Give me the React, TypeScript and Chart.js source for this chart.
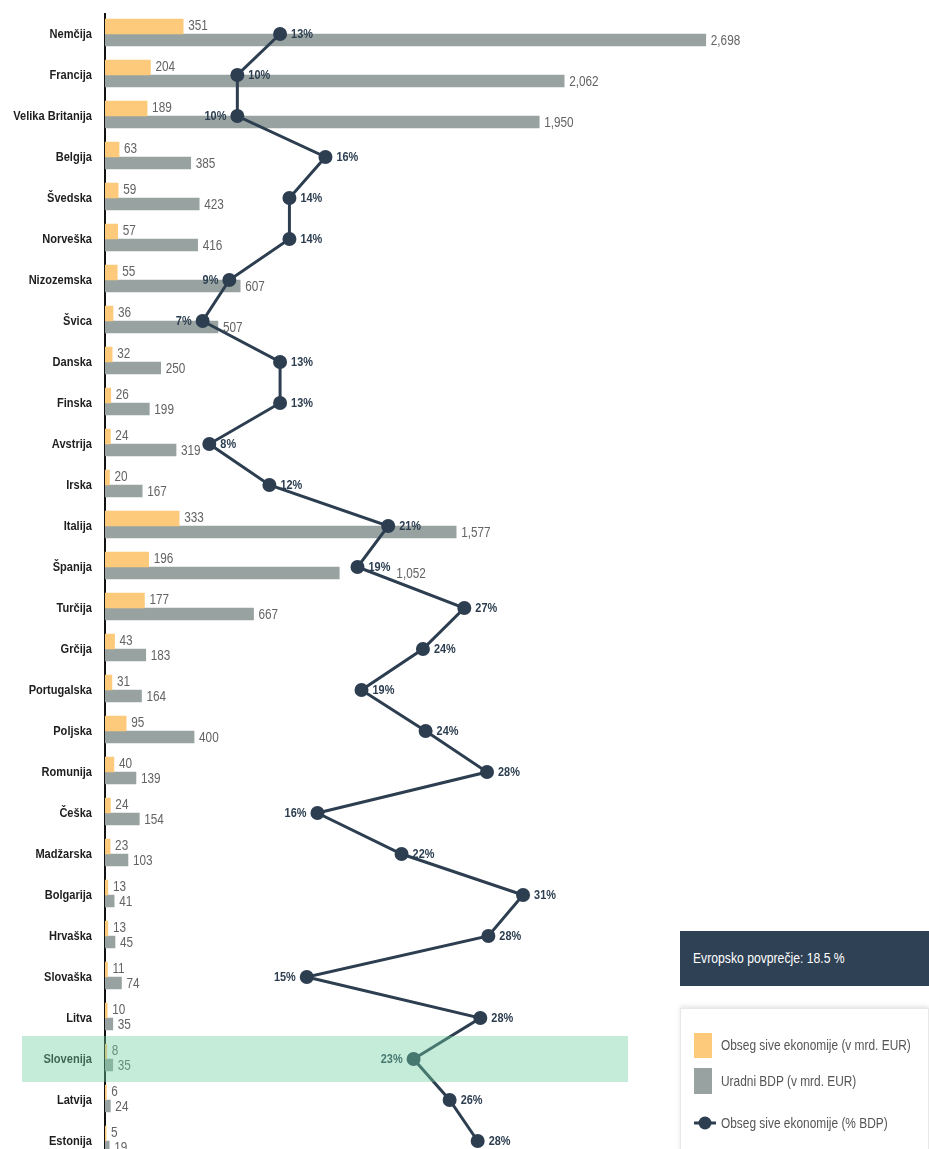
import React, { useEffect, useRef } from 'react';
import { Chart, registerables } from 'chart.js';

Chart.register(...registerables);

const COUNTRIES = [
  'Nemčija', 'Francija', 'Velika Britanija', 'Belgija', 'Švedska', 'Norveška', 'Nizozemska',
  'Švica', 'Danska', 'Finska', 'Avstrija', 'Irska', 'Italija', 'Španija', 'Turčija', 'Grčija',
  'Portugalska', 'Poljska', 'Romunija', 'Češka', 'Madžarska', 'Bolgarija', 'Hrvaška', 'Slovaška',
  'Litva', 'Slovenija', 'Latvija', 'Estonija',
];
const SHADOW_EUR = [351, 204, 189, 63, 59, 57, 55, 36, 32, 26, 24, 20, 333, 196, 177, 43, 31, 95, 40, 24, 23, 13, 13, 11, 10, 8, 6, 5];
const GDP_EUR = [2698, 2062, 1950, 385, 423, 416, 607, 507, 250, 199, 319, 167, 1577, 1052, 667, 183, 164, 400, 139, 154, 103, 41, 45, 74, 35, 35, 24, 19];
const SHADOW_PCT = [12.8, 9.6, 9.6, 16.2, 13.5, 13.5, 9.0, 7.0, 12.8, 12.8, 7.5, 12.0, 20.9, 18.6, 26.6, 23.5, 18.9, 23.7, 28.3, 15.6, 21.9, 31.0, 28.4, 14.8, 27.8, 22.8, 25.5, 27.6];
const HIGHLIGHT = 'Slovenija';
const LEFT_LABELS = new Set(['Velika Britanija', 'Nizozemska', 'Švica', 'Češka', 'Slovaška', 'Slovenija']);
const LEGEND_LABELS = ['Obseg sive ekonomije (v mrd. EUR)', 'Uradni BDP (v mrd. EUR)', 'Obseg sive ekonomije (% BDP)'];
const AVERAGE_TEXT = 'Evropsko povprečje: 18.5 %';

const FONT = "'Liberation Sans', Arial, sans-serif";
const ORANGE = '#fdc97a';
const GRAY = '#98a3a1';
const NAVY = '#2c3e50';

const fmt = (v: number) => v.toLocaleString('en-US');

function narrowText(ctx: CanvasRenderingContext2D, text: string, x: number, y: number, font: string, color: string, align: CanvasTextAlign, sx: number) {
  ctx.save();
  ctx.font = font;
  ctx.fillStyle = color;
  ctx.textAlign = align;
  ctx.textBaseline = 'middle';
  ctx.translate(x, y);
  ctx.scale(sx, 1);
  ctx.fillText(text, 0, 0);
  ctx.restore();
}
function narrowWidth(ctx: CanvasRenderingContext2D, text: string, font: string, sx: number) {
  ctx.save();
  ctx.font = font;
  const w = ctx.measureText(text).width * sx;
  ctx.restore();
  return w;
}

const labelPlugin = {
  id: 'valueLabels',
  afterDatasetsDraw(chart: any) {
    const { ctx } = chart;
    const x = chart.scales.x;
    const x2 = chart.scales.x2;
    const y = chart.scales.y;
    const catFont = `bold 13.5px ${FONT}`;
    const pctFont = `bold 13px ${FONT}`;
    const valFont = `14px ${FONT}`;
    COUNTRIES.forEach((c, i) => {
      const cy = y.getPixelForValue(i);
      // category label
      narrowText(ctx, c, y.right - 13, cy, catFont, '#1e1e1e', 'right', 0.82);
      // percent label
      const px = x2.getPixelForValue(SHADOW_PCT[i]);
      const pctText = Math.round(SHADOW_PCT[i]) + '%';
      const left = LEFT_LABELS.has(c);
      const pw = narrowWidth(ctx, pctText, pctFont, 0.84);
      const pStart = left ? px - 11 - pw : px + 11;
      narrowText(ctx, pctText, pStart, cy, pctFont, NAVY, 'left', 0.84);
      // value labels
      narrowText(ctx, String(SHADOW_EUR[i]), x.getPixelForValue(SHADOW_EUR[i]) + 5, cy - 8, valFont, '#636363', 'left', 0.84);
      const gText = fmt(GDP_EUR[i]);
      let gx = x.getPixelForValue(GDP_EUR[i]) + 5;
      const gw = narrowWidth(ctx, gText, valFont, 0.84);
      if (!left && gx < px + 7 && gx + gw > px - 7) {
        gx = pStart + pw + 6;
      }
      narrowText(ctx, gText, gx, cy + 7, valFont, '#636363', 'left', 0.84);
    });
  },
  afterDraw(chart: any) {
    const { ctx } = chart;
    const y = chart.scales.y;
    const i = COUNTRIES.indexOf(HIGHLIGHT);
    const cy = y.getPixelForValue(i);
    ctx.save();
    ctx.fillStyle = 'rgba(110, 208, 160, 0.4)';
    ctx.fillRect(22, cy - 23, 606, 46);
    ctx.restore();
  },
};

function ChartCanvas() {
  const ref = useRef<HTMLCanvasElement | null>(null);
  useEffect(() => {
    if (!ref.current) return;
    const chart = new Chart(ref.current, {
      type: 'bar',
      data: {
        labels: COUNTRIES,
        datasets: [
          {
            type: 'line' as const,
            label: LEGEND_LABELS[2],
            data: SHADOW_PCT,
            xAxisID: 'x2',
            borderColor: NAVY,
            backgroundColor: NAVY,
            borderWidth: 3,
            pointRadius: 7,
            pointBorderWidth: 0,
            pointBackgroundColor: NAVY,
            order: 0,
          } as any,
          {
            label: LEGEND_LABELS[0],
            data: SHADOW_EUR,
            xAxisID: 'x',
            backgroundColor: ORANGE,
            barThickness: 15,
            order: 1,
          },
          {
            label: LEGEND_LABELS[1],
            data: GDP_EUR,
            xAxisID: 'x',
            backgroundColor: GRAY,
            barThickness: 12,
            order: 2,
          },
        ],
      },
      options: {
        indexAxis: 'y',
        animation: false,
        responsive: true,
        maintainAspectRatio: false,
        layout: { padding: { top: 13.5, bottom: 13.5, right: 4, left: 0 } },
        plugins: { legend: { display: false }, tooltip: { enabled: false } },
        scales: {
          x: { type: 'linear', display: false, min: 0, max: 3669 },
          x2: { type: 'linear', display: false, min: -0.313, max: 60.88 },
          y: {
            type: 'category',
            offset: true,
            grid: { display: false },
            border: { display: true, color: '#111', width: 2 },
            ticks: { display: false },
            afterFit: (s: any) => {
              s.width = 105;
              s.paddingTop = 0;
              s.paddingBottom = 0;
            },
          },
        },
      } as any,
      plugins: [labelPlugin],
    });
    return () => chart.destroy();
  }, []);
  return <canvas ref={ref} />;
}

const legendText: React.CSSProperties = {
  position: 'absolute',
  left: 40,
  fontFamily: FONT,
  fontSize: 14,
  color: '#555',
  whiteSpace: 'nowrap',
  transform: 'scaleX(0.85)',
  transformOrigin: 'left center',
  lineHeight: '16px',
};

export default function App() {
  return (
    <div style={{ position: 'fixed', left: 0, top: 0, width: 929, height: 1149, overflow: 'hidden', background: '#fff' }}>
      <div style={{ position: 'absolute', left: 0, top: 0, width: 929, height: 1175 }}>
        <ChartCanvas />
      </div>
      <div style={{ position: 'absolute', left: 680, top: 931, width: 249, height: 55, background: '#2f4154' }}>
        <div style={{ position: 'absolute', left: 13, top: 19, fontFamily: FONT, fontSize: 14, color: '#fff', whiteSpace: 'nowrap', transform: 'scaleX(0.87)', transformOrigin: 'left center', lineHeight: '16px' }}>
          {AVERAGE_TEXT}
        </div>
      </div>
      <div style={{ position: 'absolute', left: 680, top: 1008, width: 249, height: 160, background: '#fff', border: '1px solid #e8e8e8', boxShadow: '0 -2px 4px rgba(0,0,0,0.10)', boxSizing: 'border-box' }}>
        <div style={{ position: 'absolute', left: 13, top: 24, width: 18, height: 25, background: ORANGE }} />
        <div style={{ ...legendText, top: 28 }}>{LEGEND_LABELS[0]}</div>
        <div style={{ position: 'absolute', left: 13, top: 59, width: 18, height: 26, background: GRAY }} />
        <div style={{ ...legendText, top: 64 }}>{LEGEND_LABELS[1]}</div>
        <svg style={{ position: 'absolute', left: 12, top: 106 }} width="24" height="16">
          <line x1="1" y1="8" x2="23" y2="8" stroke={NAVY} strokeWidth="3" />
          <circle cx="12" cy="8" r="6.5" fill={NAVY} />
        </svg>
        <div style={{ ...legendText, top: 106 }}>{LEGEND_LABELS[2]}</div>
      </div>
    </div>
  );
}
